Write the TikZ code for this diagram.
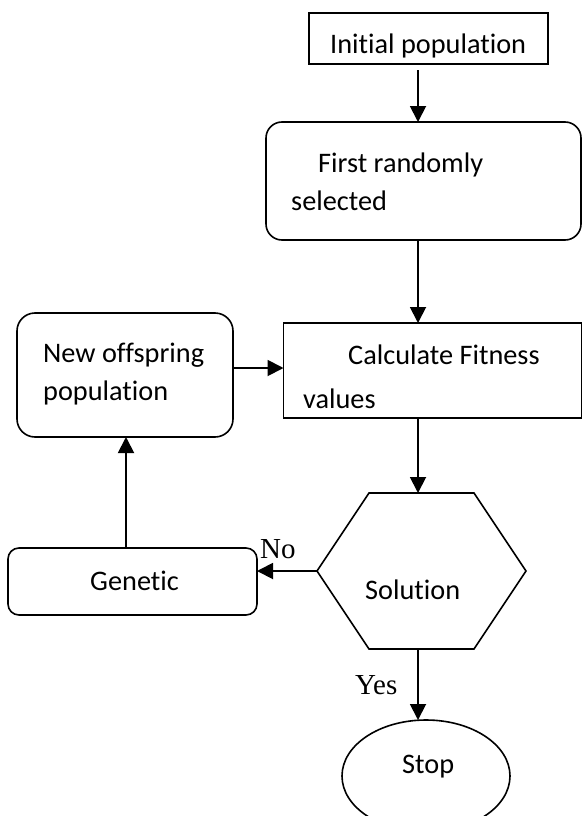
\documentclass[tikz,border=0pt]{standalone}
\usepackage{fontspec}
\setmainfont{Carlito}[Ligatures=CommonOff]
\newfontfamily\tnr{Liberation Serif}
\usetikzlibrary{arrows.meta,shapes.geometric}
\begin{document}
\begin{tikzpicture}[x=1pt,y=-1pt,
  box/.style={draw,line width=1.6pt,inner sep=0pt,outer sep=0pt},
  rbox/.style={box,rounded corners=#1},
  txt/.style={anchor=base west,inner sep=0pt,font=\fontsize{28.3}{34}\selectfont},
  lbl/.style={anchor=base west,inner sep=0pt,font=\tnr\fontsize{29}{34}\selectfont},
  arr/.style={line width=1.9pt,-{Triangle[length=16pt,width=16pt]}}]
\useasboundingbox (0,0) rectangle (582,816);
\coordinate (axis) at (418,0);
\coordinate (col) at (126,0);
\coordinate (row) at (0,368);
% shapes
\node[box,minimum width=239pt,minimum height=51pt] (init) at (428.5,38.5) {};
\node[rbox=16pt,minimum width=315pt,minimum height=118pt] (first) at (423.5,181) {};
\node[box,minimum width=298pt,minimum height=95pt] (calc) at (432.5,370.5) {};
\node[rbox=18pt,minimum width=216pt,minimum height=124pt] (newoff) at (125,375) {};
\node[rbox=11pt,minimum width=249pt,minimum height=67pt] (gen) at (132.5,581.5) {};
\node[inner sep=0pt,outer sep=0pt,minimum width=209pt,minimum height=156pt] (sol) at (421.5,571) {};
\draw[line width=1.6pt,line join=miter] (sol.west) -- ([xshift=52pt]sol.north west) -- ([xshift=-52pt]sol.north east) -- (sol.east) -- ([xshift=-52pt]sol.south east) -- ([xshift=52pt]sol.south west) -- cycle;
\node[box,ellipse,minimum width=168pt,minimum height=112pt] (stop) at (426,776) {};
% texts
\node[txt] (t1) at (330,53) {Initial population};
\node[txt] (t2) at (318,172) {First randomly};
\node[txt] (t3) at (291,210) {selected};
\node[txt] (t4) at (348,364) {Calculate Fitness};
\node[txt] (t5) at (303,408) {values};
\node[txt] (t6) at (43,362) {New offspring};
\node[txt] (t7) at (43,400) {population};
\node[txt] (t8) at (90,590) {Genetic};
\node[txt] (t9) at (365,599) {Solution};
\node[txt] (t10) at (402,773) {Stop};
\node[lbl] (no) at (260,558) {No};
\node[lbl] (yes) at (355,694) {Yes};
% connectors
\draw[arr,shorten <=6pt] (init.south -| axis) -- (first.north -| axis);
\draw[arr] (first.south -| axis) -- (calc.north -| axis);
\draw[arr] (calc.south -| axis) -- (sol.north -| axis);
\draw[arr] (sol.south -| axis) -- (stop.north -| axis);
\draw[arr] (sol.west) -- (sol.west -| gen.east);
\draw[arr] (gen.north -| col) -- (newoff.south -| col);
\draw[arr] (newoff.east |- row) -- (calc.west |- row);
\end{tikzpicture}
\end{document}
